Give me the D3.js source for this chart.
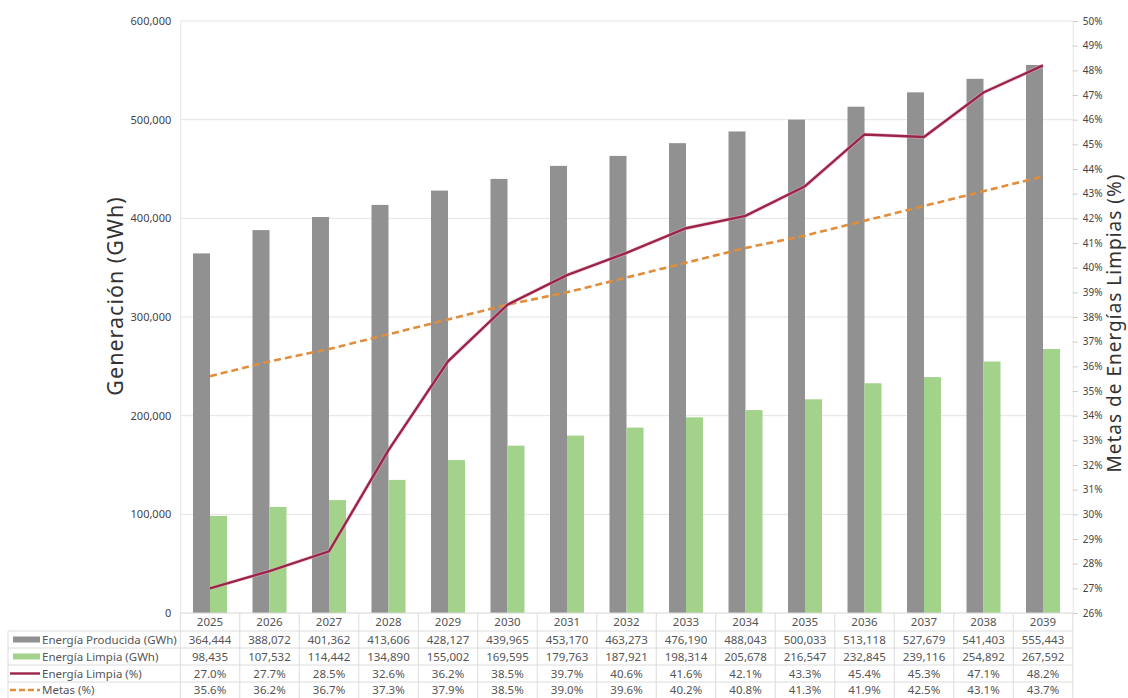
<!DOCTYPE html>
<html><head><meta charset="utf-8">
<script src="https://cdn.jsdelivr.net/npm/d3@7"></script>
<style>body{margin:0;background:#fff}svg{display:block}</style>
</head><body>
<svg id="c" width="1128" height="698"></svg>
<script>
const years = ["2025","2026","2027","2028","2029","2030","2031","2032","2033","2034","2035","2036","2037","2038","2039"];
const producida = [364444,388072,401362,413606,428127,439965,453170,463273,476190,488043,500033,513118,527679,541403,555443];
const limpia = [98435,107532,114442,134890,155002,169595,179763,187921,198314,205678,216547,232845,239116,254892,267592];
const limpiaPct = [27.0,27.7,28.5,32.6,36.2,38.5,39.7,40.6,41.6,42.1,43.3,45.4,45.3,47.1,48.2];
const metasPct = [35.6,36.2,36.7,37.3,37.9,38.5,39.0,39.6,40.2,40.8,41.3,41.9,42.5,43.1,43.7];
const leftTicks = [0,100000,200000,300000,400000,500000,600000];
const rightTicks = [26,27,28,29,30,31,32,33,34,35,36,37,38,39,40,41,42,43,44,45,46,47,48,49,50];
const seriesNames = ["Energía Producida (GWh)","Energía Limpia (GWh)","Energía Limpia (%)","Metas (%)"];

const C = {gray:"#919191", green:"#a3d28b", red:"#9c2449", orange:"#e08e3b", grid:"#e4e4e4", text:"#555"};
const FONT = "'Noto Sans', 'Open Sans', sans-serif";

const svg = d3.select("#c").style("font-family", FONT);
const L = 180.25, R = 1072.75, T = 21, B = 613;

const x = d3.scaleBand().domain(years).range([L, R]).padding(0);
const xs = d3.scaleBand().domain(["p","l"]).range([0, x.bandwidth()]).paddingInner(0).paddingOuter(0.75);
const y = d3.scaleLinear().domain([0, 600000]).range([B, T]);
const y2 = d3.scaleLinear().domain([26, 50]).range([B, T]);

// grid
svg.append("g").selectAll("line").data(leftTicks.slice(1)).join("line")
  .attr("x1", L).attr("x2", R).attr("y1", d => y(d)).attr("y2", d => y(d))
  .attr("stroke", C.grid).attr("stroke-width", 1);

// left axis
const gl = svg.append("g").attr("transform", `translate(${L},0)`)
  .call(d3.axisLeft(y).tickValues(leftTicks).tickFormat(d3.format(",")).tickSize(0).tickPadding(9));
gl.select(".domain").attr("stroke", C.grid);
gl.selectAll("text").attr("font-size", 11).attr("fill", "#444").attr("font-family", FONT);

// right axis
const gr = svg.append("g").attr("transform", `translate(${R},0)`)
  .call(d3.axisRight(y2).tickValues(rightTicks).tickFormat(d => d + "%").tickSize(5).tickPadding(5));
gr.select(".domain").attr("stroke", C.grid);
gr.selectAll(".tick line").attr("stroke", "#ccc");
gr.selectAll("text").attr("font-size", 10).attr("fill", "#444").attr("font-family", FONT);

// bars
const bars = svg.append("g");
bars.selectAll("rect.p").data(years).join("rect").attr("class","p")
  .attr("x", d => x(d) + xs("p")).attr("width", xs.bandwidth())
  .attr("y", (d,i) => y(producida[i])).attr("height", (d,i) => y(0) - y(producida[i]))
  .attr("fill", C.gray);
bars.selectAll("rect.l").data(years).join("rect").attr("class","l")
  .attr("x", d => x(d) + xs("l")).attr("width", xs.bandwidth())
  .attr("y", (d,i) => y(limpia[i])).attr("height", (d,i) => y(0) - y(limpia[i]))
  .attr("fill", C.green);

const cx = d => x(d) + x.bandwidth() / 2;
// lines
svg.append("path").datum(years)
  .attr("d", d3.line().x(cx).y((d,i) => y2(metasPct[i])))
  .attr("fill","none").attr("stroke", C.orange).attr("stroke-width", 2.6).attr("stroke-dasharray","7,4");
svg.append("path").datum(years)
  .attr("d", d3.line().x(cx).y((d,i) => y2(limpiaPct[i])))
  .attr("fill","none").attr("stroke", "#e8b5c3").attr("stroke-width", 4).attr("stroke-opacity", 0.5);
svg.append("path").datum(years)
  .attr("d", d3.line().x(cx).y((d,i) => y2(limpiaPct[i])))
  .attr("fill","none").attr("stroke", C.red).attr("stroke-width", 2.4);

// axis titles
svg.append("text").attr("transform", `translate(123,296) rotate(-90)`).attr("text-anchor","middle")
  .attr("font-size", 21.5).attr("letter-spacing", 1).attr("fill", "#333").text("Generación (GWh)");
svg.append("text").attr("transform", `translate(1121,323) rotate(-90)`).attr("text-anchor","middle")
  .attr("font-size", 19).attr("letter-spacing", 1).attr("fill", "#333").text("Metas de Energías Limpias (%)");

// table
const tb = svg.append("g");
const rowTop = [613, 631, 648, 665, 682];
const rowBottom = 698;
const tableLeft = 8;
tb.append("line").attr("x1", L).attr("x2", R).attr("y1", B).attr("y2", B).attr("stroke", "#d6d6d6");
rowTop.slice(1).forEach(ry => {
  tb.append("line").attr("x1", tableLeft).attr("x2", R).attr("y1", ry).attr("y2", ry).attr("stroke", "#dcdcdc");
});
tb.append("line").attr("x1", tableLeft).attr("x2", tableLeft).attr("y1", rowTop[1]).attr("y2", rowBottom).attr("stroke", "#dcdcdc");
tb.selectAll("line.v").data(years).join("line").attr("class","v")
  .attr("x1", d => x(d)).attr("x2", d => x(d)).attr("y1", B).attr("y2", rowBottom).attr("stroke", "#dcdcdc");
tb.append("line").attr("x1", R).attr("x2", R).attr("y1", B).attr("y2", rowBottom).attr("stroke", "#dcdcdc");

const fmtN = d3.format(",");
const fmtP = d => d3.format(".1f")(d) + "%";
const rows = [
  years.map(d => d),
  producida.map(fmtN),
  limpia.map(fmtN),
  limpiaPct.map(fmtP),
  metasPct.map(fmtP)
];
rows.forEach((vals, ri) => {
  const top = rowTop[ri], bot = ri < 4 ? rowTop[ri+1] : rowBottom;
  const my = (top + bot) / 2;
  tb.selectAll(null).data(vals).join("text")
    .attr("x", (d,i) => cx(years[i])).attr("y", my).attr("dy","0.35em")
    .attr("text-anchor","middle").attr("font-size", 11.5).attr("fill", C.text).text(d => d);
});

// legend keys in the table
const keyX1 = 12, keyX2 = 40;
seriesNames.forEach((name, i) => {
  const top = rowTop[i+1], bot = i < 3 ? rowTop[i+2] : rowBottom;
  const my = (top + bot) / 2;
  if (i === 0 || i === 1) {
    tb.append("rect").attr("x", keyX1+1).attr("y", my - 3).attr("width", keyX2 - keyX1 - 1).attr("height", 6)
      .attr("fill", i === 0 ? C.gray : C.green);
  } else if (i === 2) {
    tb.append("line").attr("x1", keyX1-2).attr("x2", keyX2).attr("y1", my).attr("y2", my)
      .attr("stroke", C.red).attr("stroke-width", 2.4);
  } else {
    tb.append("line").attr("x1", keyX1-2).attr("x2", keyX2).attr("y1", my).attr("y2", my)
      .attr("stroke", C.orange).attr("stroke-width", 2.4).attr("stroke-dasharray","6,3");
  }
  tb.append("text").attr("x", keyX2 + 2).attr("y", my).attr("dy","0.35em")
    .attr("font-size", 11.5).attr("fill", C.text).text(name);
});
</script>
</body></html>
